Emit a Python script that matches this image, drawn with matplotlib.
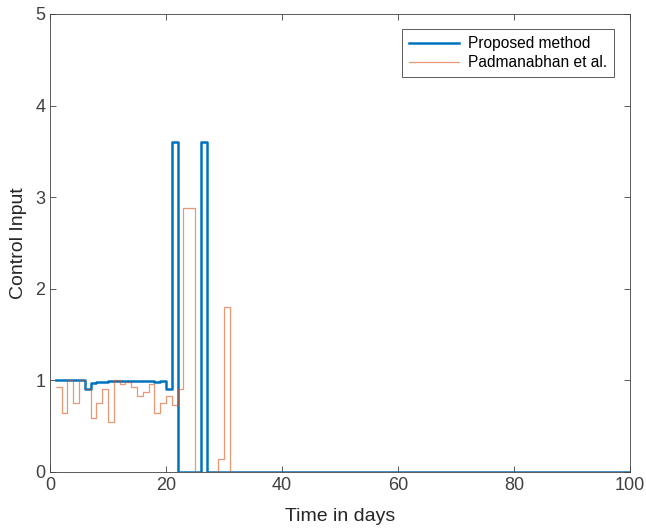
import numpy as np
import matplotlib
matplotlib.use("Agg")
import matplotlib.pyplot as plt

plt.rcParams['font.family'] = ['Liberation Sans', 'DejaVu Sans']

# daily control input, day 1..100 (stairs)
days = np.arange(1, 101)

proposed = [1.0, 1.0, 1.0, 1.0, 1.0, 0.91, 0.97, 0.98, 0.98, 0.99,
            0.99, 0.99, 0.99, 0.99, 0.99, 0.99, 0.99, 0.98, 0.99, 0.91,
            3.6, 0, 0, 0, 0, 3.6] + [0] * 74

padmanabhan = [0.93, 0.64, 1.0, 0.75, 1.0, 0.91, 0.59, 0.75, 0.91, 0.55,
               1.0, 0.96, 0.98, 0.93, 0.83, 0.87, 0.96, 0.64, 0.75, 0.83,
               0.73, 0.91, 2.88, 2.88, 0, 0, 0, 0, 0.14, 1.8] + [0] * 70

fig = plt.figure(figsize=(6.46, 5.32), dpi=100)
ax = fig.add_axes([0.0774, 0.1128, 0.8976, 0.861])

ax.step(days, proposed, where='post', color='#0072BD', lw=1.8,
        label='Proposed method')
ax.step(days, padmanabhan, where='post', color='#D95319', lw=0.9, alpha=0.6,
        label='Padmanabhan et al.')

ax.set_xlim(0, 100)
ax.set_ylim(0, 5)
ax.set_xticks(range(0, 101, 20))
ax.set_yticks(range(0, 6))
ax.tick_params(direction='in', top=True, right=True, labelsize=13,
               colors='#404040', length=4, width=0.6)
for s in ax.spines.values():
    s.set_color('#404040')
    s.set_linewidth(0.6)

ax.set_xlabel('Time in days', fontsize=14, color='#262626', labelpad=10)
ax.set_ylabel('Control Input', fontsize=14, color='#262626', labelpad=6)

leg = ax.legend(loc='upper right', fontsize=11.2, fancybox=False, framealpha=1,
                edgecolor='#404040', borderaxespad=1.0, handlelength=3.2,
                borderpad=0.45, labelspacing=0.25, handletextpad=0.6)
leg.get_frame().set_linewidth(0.6)

fig.savefig('out.png', dpi=100)
